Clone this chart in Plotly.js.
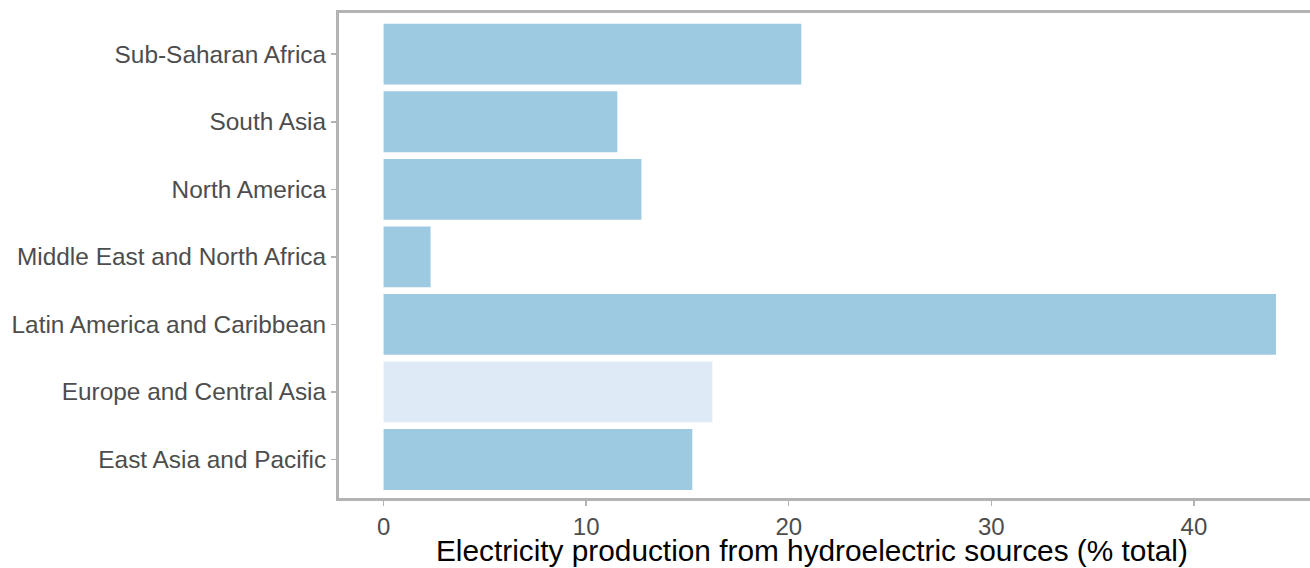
<!DOCTYPE html>
<html>
<head>
<meta charset="utf-8">
<script src="https://cdn.plot.ly/plotly-3.0.1.min.js"></script>
<style>html,body{margin:0;padding:0;background:#fff;}#chart{width:1310px;height:568px;}</style>
</head>
<body>
<div id="chart"></div>
<script>
const regions = [
  "East Asia and Pacific",
  "Europe and Central Asia",
  "Latin America and Caribbean",
  "Middle East and North Africa",
  "North America",
  "South Asia",
  "Sub-Saharan Africa"
];
const hydroShare = [15.24, 16.23, 44.05, 2.32, 12.73, 11.54, 20.62];
const highlighted = "Europe and Central Asia";
const xTicks = [0, 10, 20, 30, 40];
const xTitle = "Electricity production from hydroelectric sources (% total)";

const colors = regions.map(r => r === highlighted ? "#deebf7" : "#9ecae1");

const trace = {
  type: "bar",
  orientation: "h",
  y: regions,
  x: hydroShare,
  marker: {color: colors, line: {width: 0}},
  hoverinfo: "x+y"
};

const layout = {
  width: 1310,
  height: 568,
  margin: {l: 339, r: 0, t: 13, b: 70, pad: 0},
  paper_bgcolor: "#fff",
  plot_bgcolor: "#fff",
  bargap: 0.1,
  showlegend: false,
  font: {family: "Liberation Sans, Arial, sans-serif", color: "#4d4d4d"},
  xaxis: {
    range: [-2.2, 45.73],
    tickvals: xTicks,
    ticktext: xTicks.map(String),
    showgrid: false,
    zeroline: false,
    showline: true,
    mirror: true,
    linecolor: "#b3b3b3",
    linewidth: 3,
    ticks: "outside",
    ticklen: 5,
    tickwidth: 1.5,
    tickcolor: "#b3b3b3",
    tickfont: {size: 24, color: "#4d4d4d"}
  },
  yaxis: {
    type: "category",
    categoryorder: "array",
    categoryarray: regions,
    range: [-0.57, 6.61],
    showgrid: false,
    zeroline: false,
    showline: true,
    linecolor: "#b3b3b3",
    linewidth: 3,
    ticks: "outside",
    ticklen: 5,
    tickwidth: 1.5,
    tickcolor: "#b3b3b3",
    tickfont: {size: 24.4, color: "#4d4d4d"}
  },
  annotations: [{
    text: xTitle,
    xref: "paper", yref: "paper",
    x: 0.4876, y: 0,
    xanchor: "center", yanchor: "middle",
    yshift: -52,
    showarrow: false,
    font: {size: 29.8, color: "#000"}
  }]
};

Plotly.newPlot("chart", [trace], layout, {displayModeBar: false, staticPlot: true});
</script>
</body>
</html>
